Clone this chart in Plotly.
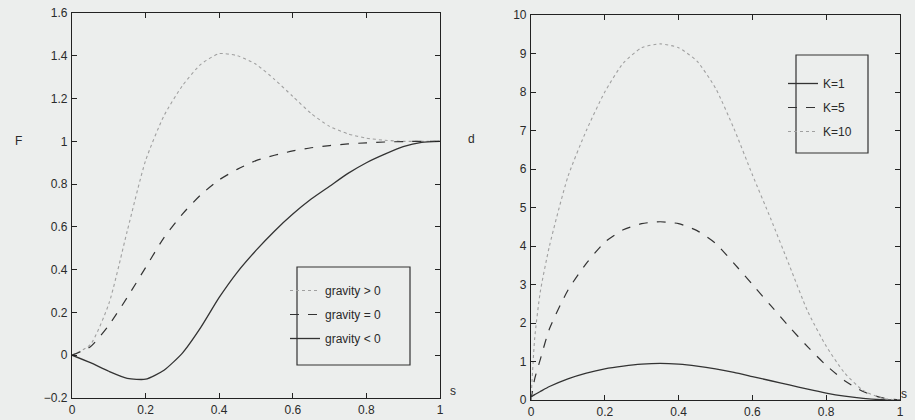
import plotly.graph_objects as go

# ---- left panel data (F vs s) ----
s_left = [0, 0.05, 0.1, 0.15, 0.2, 0.25, 0.3, 0.35, 0.4, 0.45, 0.5,
          0.55, 0.6, 0.65, 0.7, 0.75, 0.8, 0.85, 0.9, 0.95, 1.0]
F_grav_pos = [0, 0.05, 0.24, 0.58, 0.91, 1.12, 1.26, 1.36, 1.41, 1.40, 1.36,
              1.29, 1.21, 1.13, 1.07, 1.035, 1.015, 1.005, 1.0, 1.0, 1.0]
F_grav_zero = [0, 0.04, 0.14, 0.27, 0.41, 0.55, 0.66, 0.75, 0.82, 0.87, 0.91,
               0.935, 0.955, 0.97, 0.98, 0.988, 0.993, 0.997, 0.999, 1.0, 1.0]
F_grav_neg = [0, -0.035, -0.075, -0.108, -0.112, -0.07, 0.01, 0.13, 0.27, 0.39, 0.49,
              0.58, 0.66, 0.73, 0.79, 0.85, 0.90, 0.94, 0.975, 0.995, 1.0]

# ---- right panel data (d vs s) ----
s_right = [0, 0.01, 0.025, 0.05, 0.1, 0.15, 0.2, 0.25, 0.3, 0.35, 0.4, 0.45,
           0.5, 0.55, 0.6, 0.65, 0.7, 0.75, 0.8, 0.85, 0.9, 0.95, 1.0]
d_K1 = [0.08, 0.14, 0.22, 0.35, 0.55, 0.70, 0.81, 0.88, 0.93, 0.95, 0.93, 0.88,
        0.81, 0.72, 0.61, 0.50, 0.39, 0.28, 0.18, 0.10, 0.04, 0.01, 0]
d_K5 = [0, 0.55, 1.05, 1.85, 2.85, 3.55, 4.1, 4.42, 4.58, 4.63, 4.58, 4.4,
        4.07, 3.55, 3.0, 2.45, 1.9, 1.38, 0.9, 0.5, 0.22, 0.06, 0]
d_K10 = [0, 1.6, 2.8, 4.0, 5.8, 7.0, 8.0, 8.75, 9.15, 9.25, 9.15, 8.8,
         8.1, 7.05, 5.85, 4.7, 3.5, 2.3, 1.4, 0.7, 0.25, 0.05, 0]

x_ticks = [0, 0.2, 0.4, 0.6, 0.8, 1]
x_ticklabels = ["0", "0.2", "0.4", "0.6", "0.8", "1"]
yl_ticks = [-0.2, 0, 0.2, 0.4, 0.6, 0.8, 1, 1.2, 1.4, 1.6]
yl_ticklabels = ["\u22120.2", "0", "0.2", "0.4", "0.6", "0.8", "1", "1.2", "1.4", "1.6"]
yr_ticks = list(range(0, 11))
yr_ticklabels = [str(v) for v in yr_ticks]

W, H = 915, 420
FONT = "Liberation Sans"
INK = "#2a2a2a"
BG = "#eceeed"

fig = go.Figure()

solid = dict(color="#333333", width=1.3, shape="spline", smoothing=0.6)
dashed = dict(color="#333333", width=1.2, dash="dash", shape="spline", smoothing=0.6)
dotted = dict(color="#a0a0a0", width=1.1, dash="dot", shape="spline", smoothing=0.6)

fig.add_trace(go.Scatter(x=s_left, y=F_grav_pos, mode="lines", line=dotted,
                         name="gravity > 0", xaxis="x", yaxis="y", legend="legend",
                         legendgroup="a"))
fig.add_trace(go.Scatter(x=s_left, y=F_grav_zero, mode="lines", line=dashed,
                         name="gravity = 0", xaxis="x", yaxis="y", legend="legend",
                         legendgroup="b"))
fig.add_trace(go.Scatter(x=s_left, y=F_grav_neg, mode="lines", line=solid,
                         name="gravity < 0", xaxis="x", yaxis="y", legend="legend",
                         legendgroup="c"))

fig.add_trace(go.Scatter(x=s_right, y=d_K1, mode="lines", line=solid,
                         name="K=1", xaxis="x2", yaxis="y2", legend="legend2",
                         legendgroup="d"))
fig.add_trace(go.Scatter(x=s_right, y=d_K5, mode="lines", line=dashed,
                         name="K=5", xaxis="x2", yaxis="y2", legend="legend2",
                         legendgroup="e"))
fig.add_trace(go.Scatter(x=s_right, y=d_K10, mode="lines", line=dotted,
                         name="K=10", xaxis="x2", yaxis="y2", legend="legend2",
                         legendgroup="f"))

def px_x(p):
    return p / W

def px_y(p):
    return 1 - p / H

axis_common = dict(showgrid=False, zeroline=False, showline=True, linecolor="#222222",
                   linewidth=1.2, mirror="ticks", ticks="inside", ticklen=5,
                   tickcolor="#222222", automargin=False,
                   tickfont=dict(family=FONT, size=12, color=INK))

fig.update_layout(
    width=W, height=H,
    margin=dict(l=0, r=0, t=0, b=0, autoexpand=False),
    paper_bgcolor=BG, plot_bgcolor=BG,
    font=dict(family=FONT, size=12, color=INK),
    xaxis=dict(domain=[px_x(72), px_x(440)], range=[0, 1], tickvals=x_ticks,
               ticktext=x_ticklabels, anchor="y", ticklabelstandoff=0, **axis_common),
    yaxis=dict(domain=[px_y(398), px_y(13)], range=[-0.2, 1.6], tickvals=yl_ticks,
               ticktext=yl_ticklabels, anchor="x", ticklabelstandoff=1, **axis_common),
    xaxis2=dict(domain=[px_x(531), px_x(900)], range=[0, 1], tickvals=x_ticks,
                ticktext=x_ticklabels, anchor="y2", ticklabelstandoff=0, **axis_common),
    yaxis2=dict(domain=[px_y(400), px_y(15)], range=[0, 10], tickvals=yr_ticks,
                ticktext=yr_ticklabels, anchor="x2", ticklabelstandoff=1, **axis_common),
    legend=dict(x=px_x(285), y=px_y(276), xanchor="left", yanchor="top",
                bgcolor="rgba(0,0,0,0)", borderwidth=0, itemwidth=30,
                traceorder="grouped", tracegroupgap=5,
                font=dict(family=FONT, size=12, color=INK)),
    legend2=dict(x=px_x(783), y=px_y(69), xanchor="left", yanchor="top",
                 bgcolor="rgba(0,0,0,0)", borderwidth=0, itemwidth=30,
                 traceorder="grouped", tracegroupgap=5,
                 font=dict(family=FONT, size=12, color=INK)),
    shapes=[
        dict(type="rect", xref="paper", yref="paper", x0=px_x(297), x1=px_x(410),
             y0=px_y(365), y1=px_y(267), line=dict(color="#333333", width=1.2)),
        dict(type="rect", xref="paper", yref="paper", x0=px_x(796), x1=px_x(868),
             y0=px_y(153), y1=px_y(55), line=dict(color="#333333", width=1.2)),
    ],
    annotations=[
        dict(text="F", x=px_x(13), y=px_y(141), xref="paper", yref="paper",
             showarrow=False, font=dict(family=FONT, size=12, color=INK)),
        dict(text="d", x=px_x(472), y=px_y(130), xref="paper", yref="paper",
             showarrow=False, font=dict(family=FONT, size=12, color=INK)),
        dict(text="s", x=px_x(453), y=px_y(400), xref="paper", yref="paper",
             showarrow=False, font=dict(family=FONT, size=12, color=INK)),
        dict(text="s", x=px_x(909), y=px_y(403), xref="paper", yref="paper",
             showarrow=False, font=dict(family=FONT, size=12, color=INK)),
    ],
)

fig.write_html(
    "out.html",
    config={"displayModeBar": False},
    post_script="document.body.style.margin='0';document.body.style.background='#eceeed';",
)
